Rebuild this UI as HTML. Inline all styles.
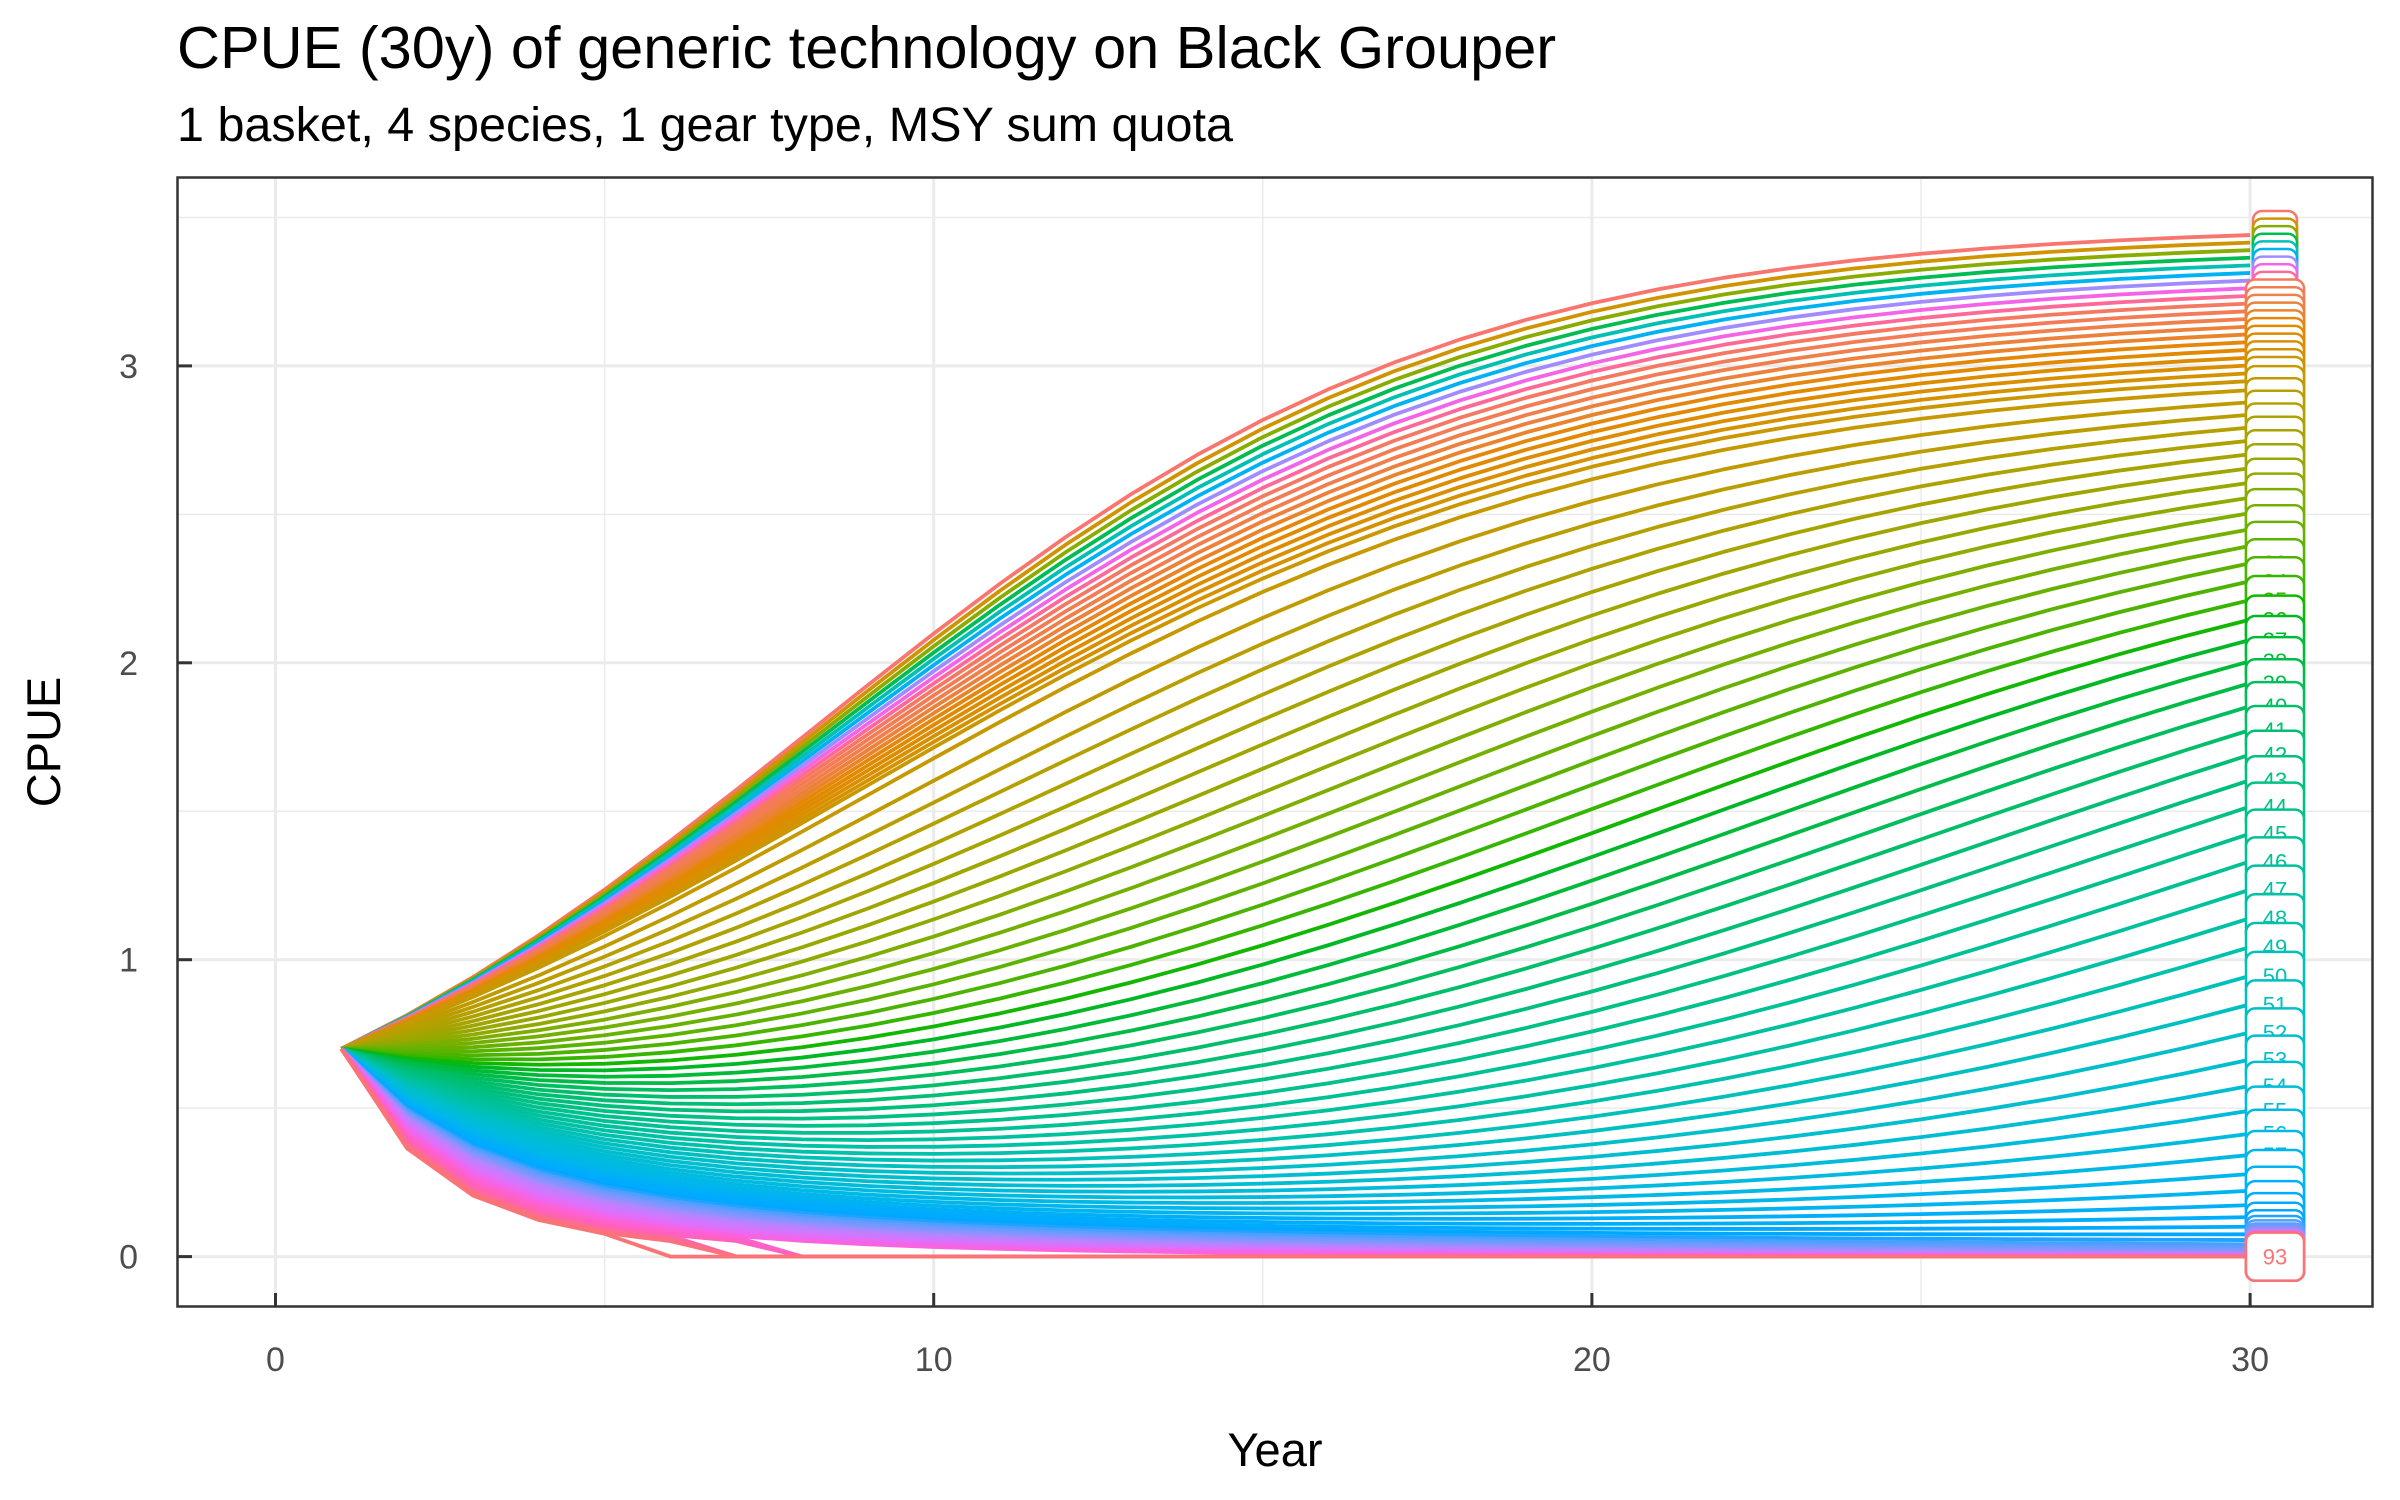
<!DOCTYPE html>
<html><head><meta charset="utf-8">
<style>
html,body{margin:0;padding:0;background:#fff;}
svg{display:block;font-family:"Liberation Sans",Arial,sans-serif;}
</style></head>
<body>
<svg id="chart" width="2400" height="1500" viewBox="0 0 2400 1500" xmlns="http://www.w3.org/2000/svg">
<rect x="0" y="0" width="2400" height="1500" fill="#fff"/>
<text x="177" y="68" font-size="59.5" fill="#000">CPUE (30y) of generic technology on Black Grouper</text>
<text x="177" y="141" font-size="48.5" fill="#000">1 basket, 4 species, 1 gear type, MSY sum quota</text>
<g id="grid"></g>
<g id="lines"></g>
<g id="labels"></g>
<rect x="177.5" y="177.5" width="2195" height="1129" fill="none" stroke="#333" stroke-width="2.5"/>
<g id="axes"></g>
<text x="1275" y="1466" font-size="47" text-anchor="middle" fill="#000">Year</text>
<text x="0" y="0" font-size="47" text-anchor="middle" fill="#000" transform="translate(60,742) rotate(-90)">CPUE</text>
</svg>
<script>
// ---- data ----
const efforts = [1,2,3,4,5,6,7,8,9,10,11,12,13,14,15,16,17,18,19,20,21,22,23,24,25,26,27,28,29,30,31,32,33,34,35,36,37,38,39,40,41,42,43,44,45,46,47,48,49,50,51,52,53,54,55,56,57,58,59,60,61,62,63,64,65,66,67,68,69,70,71,72,73,74,75,76,77,78,79,80,81,82,83,84,85,86,87,88,89,90,91,92,93];
const years = [1,2,3,4,5,6,7,8,9,10,11,12,13,14,15,16,17,18,19,20,21,22,23,24,25,26,27,28,29,30];
const startCPUE = [0.7];
const maxCPUE = [3.5];
const growthRate = [0.215];
const allee = [0.08];
const persistentPressure = [0.00144];
const transientPressure = [0.0098, 20.7, 0.0004]; // steep slope, threshold effort, base slope
const pressureDecay = [0.135];
const collapseLevel = [0.05, 7]; // level, last year a collapse can happen
const xTicks = [0,10,20,30];
const xMinor = [5,15,25];
const yTicks = [0,1,2,3];
const yMinor = [0.5,1.5,2.5,3.5];
const xTickLabels = ["0","10","20","30"];
const yTickLabels = ["0","1","2","3"];

// ---- scales ----
const X0 = 275.5, XS = 65.82, Y0 = 1256.6, YS = 296.9;
const PL = 178, PR = 2372, PT = 178, PB = 1307;
function xs(v){return X0 + v*XS;}
function ys(v){return Y0 - v*YS;}
const NS = "http://www.w3.org/2000/svg";
function mk(tag, attrs){const e=document.createElementNS(NS,tag);for(const k in attrs)e.setAttribute(k,attrs[k]);return e;}

// ---- simulate trajectories from efforts ----
function simulate(E){
  const r=growthRate[0], M=maxCPUE[0], A=allee[0];
  const T=transientPressure[0]*Math.max(0,E-transientPressure[1]) + transientPressure[2]*Math.min(E,transientPressure[1]);
  let x=startCPUE[0]; const out=[x]; let dead=false;
  const sub=40;
  for(let y=1;y<years.length;y++){
    for(let s=0;s<sub;s++){
      const t=(y-1)+s/sub;
      const h=persistentPressure[0]*E + T*Math.exp(-pressureDecay[0]*t);
      x += (r*x*(1-x/M)*(x/(x+A)) - h*x)/sub;
      if(x<collapseLevel[0] && t<collapseLevel[1]){dead=true;}
      if(dead)x=0;
    }
    out.push(x);
  }
  return out;
}

// ---- colors (ggplot hue palette, alphabetic factor order) ----
function hcl(h,c,l){
  const hr=h*Math.PI/180,U=c*Math.cos(hr),V=c*Math.sin(hr);
  const Yn=100,un=0.1978398,vn=0.4683363;
  const Y=Yn*(l>8?Math.pow((l+16)/116,3):l/903.3);
  const u=U/(13*l)+un,v=V/(13*l)+vn;
  const X=9*Y*u/(4*v),Z=-X/3-5*Y+3*Y/v;
  const xx=X/100,yy=Y/100,zz=Z/100;
  let rr=3.240479*xx-1.537150*yy-0.498535*zz;
  let gg=-0.969256*xx+1.875992*yy+0.041556*zz;
  let bb=0.055648*xx-0.204043*yy+1.057311*zz;
  const g=v=>{v=v<=0.0031308?12.92*v:1.055*Math.pow(v,1/2.4)-0.055;return Math.round(255*Math.max(0,Math.min(1,v)));};
  return "rgb("+g(rr)+","+g(gg)+","+g(bb)+")";
}
const levels = efforts.map(String).slice().sort();
function colorOf(E){const i=levels.indexOf(String(E));return hcl(15+360*i/efforts.length,100,65);}

// ---- grid ----
const grid=document.getElementById('grid');
xMinor.forEach(v=>{const l=mk('line',{x1:xs(v),x2:xs(v),y1:PT,y2:PB,stroke:'#ebebeb','stroke-width':1.5});grid.appendChild(l);});
yMinor.forEach(v=>{const l=mk('line',{x1:PL,x2:PR,y1:ys(v),y2:ys(v),stroke:'#ebebeb','stroke-width':1.5});grid.appendChild(l);});
xTicks.forEach(v=>{const l=mk('line',{x1:xs(v),x2:xs(v),y1:PT,y2:PB,stroke:'#ebebeb','stroke-width':3});grid.appendChild(l);});
yTicks.forEach(v=>{const l=mk('line',{x1:PL,x2:PR,y1:ys(v),y2:ys(v),stroke:'#ebebeb','stroke-width':3});grid.appendChild(l);});

// ---- axes ----
const axes=document.getElementById('axes');
xTicks.forEach((v,i)=>{
  const t=mk('line',{x1:xs(v),x2:xs(v),y1:PB,y2:PB-14,stroke:'#333','stroke-width':3});
  axes.appendChild(t);
  const tx=mk('text',{x:xs(v),y:1371,'font-size':34,'text-anchor':'middle',fill:'#4d4d4d'});
  
  tx.textContent=xTickLabels[i];axes.appendChild(tx);
});
yTicks.forEach((v,i)=>{
  const t=mk('line',{x1:PL,x2:PL+14,y1:ys(v),y2:ys(v),stroke:'#333','stroke-width':3});
  axes.appendChild(t);
  const tx=mk('text',{x:138,y:ys(v)+12,'font-size':34,'text-anchor':'end',fill:'#4d4d4d'});
  
  tx.textContent=yTickLabels[i];axes.appendChild(tx);
});

// ---- series ----
const linesG=document.getElementById('lines'), labG=document.getElementById('labels');
const series=efforts.map(E=>({E,vals:simulate(E),col:colorOf(E)}));
series.forEach(s=>{
  const d=s.vals.map((v,i)=>(i?'L':'M')+xs(years[i]).toFixed(2)+','+ys(v).toFixed(2)).join(' ');
  const p=mk('path',{d,fill:'none',stroke:s.col,'stroke-width':3.8,'stroke-linejoin':'round'});
  
  
  linesG.appendChild(p);
});
series.forEach(s=>{
  const yEnd=ys(s.vals[s.vals.length-1]);
  const w=s.E<10?44:58, cx=2275;
  const g=mk('g',{});
  
  
  g.appendChild(mk('rect',{x:cx-w/2,y:yEnd-24,width:w,height:48,rx:9,fill:'#fff',stroke:s.col,'stroke-width':2.5}));
  const t=mk('text',{x:cx,y:yEnd+8,'font-size':22,'text-anchor':'middle',fill:s.col});
  t.textContent=String(s.E);
  g.appendChild(t);
  labG.appendChild(g);
});
</script>
</body></html>
